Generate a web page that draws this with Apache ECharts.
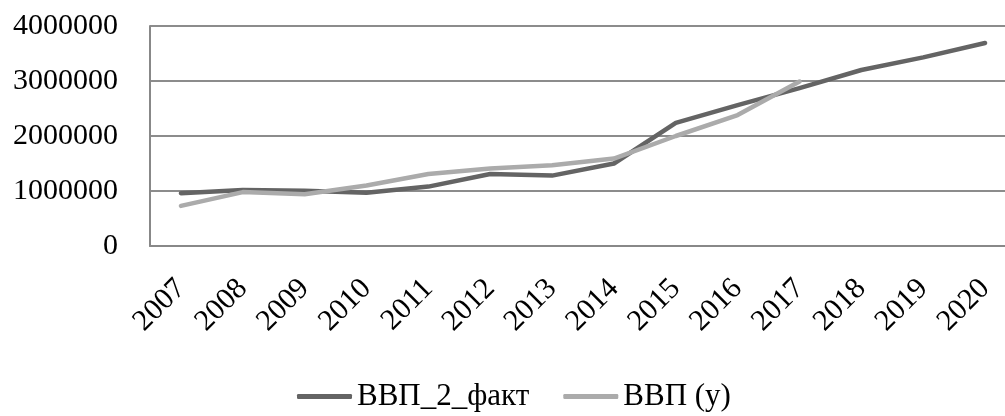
<!DOCTYPE html>
<html>
<head>
<meta charset="utf-8">
<script src="https://cdn.jsdelivr.net/npm/echarts@6/dist/echarts.min.js"></script>
<style>
html,body{margin:0;padding:0;background:#fff;}
#chart{width:1005px;height:416px;}
</style>
</head>
<body>
<div id="chart"></div>
<script>
const years = ['2007','2008','2009','2010','2011','2012','2013','2014','2015','2016','2017','2018','2019','2020'];
const gdpFact = [960000, 1020000, 1005000, 970000, 1080000, 1310000, 1280000, 1500000, 2240000, 2560000, 2870000, 3200000, 3430000, 3690000];
const gdpY = [730000, 980000, 940000, 1100000, 1310000, 1410000, 1470000, 1590000, 2000000, 2380000, 2990000, null, null, null];
const seriesNames = ['ВВП_2_факт', 'ВВП (у)'];
const yTicks = [0, 1000000, 2000000, 3000000, 4000000];

const font = '"Liberation Serif", "Times New Roman", serif';
const chart = echarts.init(document.getElementById('chart'), null, {renderer: 'canvas'});
chart.setOption({
  animation: false,
  backgroundColor: '#ffffff',
  grid: {left: 150, top: 26, width: 866, height: 220, containLabel: false, outerBoundsMode: 'none'},
  legend: {
    data: seriesNames,
    left: 292, top: 376,
    icon: 'roundRect',
    itemWidth: 55, itemHeight: 5,
    itemGap: 34,
    textStyle: {fontFamily: font, fontSize: 31, color: '#000'}
  },
  xAxis: {
    type: 'category',
    data: years,
    boundaryGap: true,
    axisLine: {show: true, lineStyle: {color: '#888888', width: 2}},
    axisTick: {show: false},
    axisLabel: {rotate: 45, margin: 38, fontFamily: font, fontSize: 30, color: '#000', interval: 0}
  },
  yAxis: {
    type: 'value',
    min: yTicks[0], max: yTicks[yTicks.length - 1], interval: 1000000,
    axisLine: {show: true, lineStyle: {color: '#888888', width: 2}},
    axisTick: {show: false},
    splitLine: {show: true, lineStyle: {color: '#8c8c8c', width: 2}},
    axisLabel: {margin: 32, fontFamily: font, fontSize: 30, color: '#000', formatter: function (v) { return String(v); }}
  },
  series: [
    {
      name: seriesNames[0], type: 'line', data: gdpFact,
      showSymbol: false, symbol: 'none',
      lineStyle: {color: '#646464', width: 4.5, cap: 'round', join: 'round'},
      itemStyle: {color: '#646464'}
    },
    {
      name: seriesNames[1], type: 'line', data: gdpY,
      showSymbol: false, symbol: 'none',
      lineStyle: {color: '#ababab', width: 4.5, cap: 'round', join: 'round'},
      itemStyle: {color: '#ababab'}
    }
  ]
});
</script>
</body>
</html>
